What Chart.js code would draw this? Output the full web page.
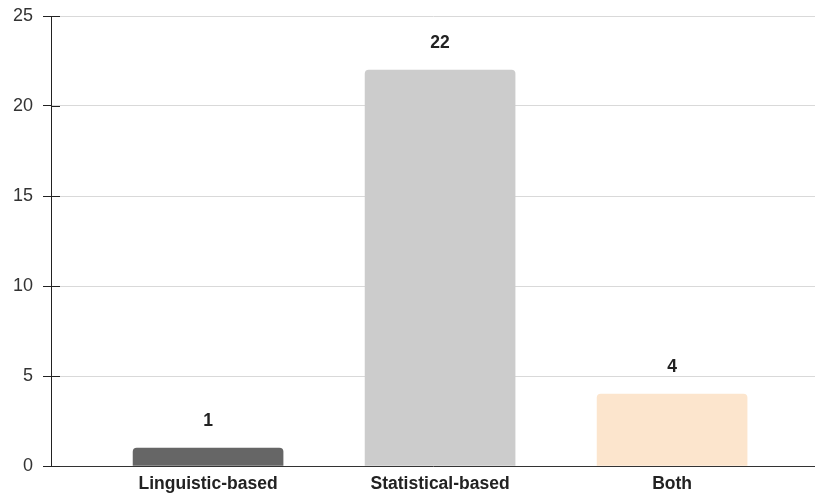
<!DOCTYPE html>
<html>
<head>
<meta charset="utf-8">
<script src="https://cdn.jsdelivr.net/npm/chart.js@4/dist/chart.umd.min.js"></script>
<style>
  html, body { margin: 0; padding: 0; background: #ffffff; }
  #wrap { width: 815px; height: 496px; position: relative; }
</style>
</head>
<body>
<div id="wrap"><canvas id="chart"></canvas></div>
<script>
// Number of approaches per category
const categories = ['Linguistic-based', 'Statistical-based', 'Both'];
const counts = [1, 22, 4];
const barColors = ['#666666', '#cccccc', '#fce5cd'];
const yTicks = [0, 5, 10, 15, 20, 25];

const FONT = 'Liberation Sans, Arial, sans-serif';

// Value labels above each bar
const valueLabels = {
  id: 'valueLabels',
  afterDatasetsDraw(chart) {
    const ctx = chart.ctx;
    const meta = chart.getDatasetMeta(0);
    ctx.save();
    ctx.font = 'bold 17.5px ' + FONT;
    ctx.fillStyle = '#222222';
    ctx.textAlign = 'center';
    ctx.textBaseline = 'middle';
    meta.data.forEach((bar, i) => {
      ctx.fillText(String(counts[i]), bar.x, bar.y - 27);
    });
    ctx.restore();
  }
};

// Short dark tick marks that cross the y axis into the plot
const crossTicks = {
  id: 'crossTicks',
  afterDraw(chart) {
    const ctx = chart.ctx;
    const y = chart.scales.y;
    const x0 = chart.chartArea.left;
    ctx.save();
    ctx.strokeStyle = '#222222';
    ctx.lineWidth = 1;
    yTicks.forEach(v => {
      const py = Math.round(y.getPixelForValue(v)) + 0.5;
      ctx.beginPath();
      ctx.moveTo(x0, py);
      ctx.lineTo(x0 + 9, py);
      ctx.stroke();
    });
    ctx.restore();
  }
};

new Chart(document.getElementById('chart'), {
  type: 'bar',
  data: {
    datasets: [{
      data: counts.map((v, i) => ({ x: i, y: v })),
      backgroundColor: barColors,
      borderRadius: { topLeft: 4, topRight: 4, bottomLeft: 0, bottomRight: 0 },
      borderSkipped: 'bottom',
      barThickness: 150
    }]
  },
  options: {
    responsive: true,
    maintainAspectRatio: false,
    animation: false,
    layout: { padding: { top: 16, right: 0, bottom: 0, left: 0 } },
    plugins: {
      legend: { display: false },
      tooltip: { enabled: false }
    },
    scales: {
      x: {
        type: 'linear',
        offset: false,
        min: -0.677,
        max: 2.616,
        grid: { display: false, drawTicks: false, offset: false },
        border: { display: true, color: '#333333', width: 1 },
        afterBuildTicks(scale) {
          scale.ticks = categories.map((c, i) => ({ value: i }));
        },
        afterFit(scale) {
          scale.height = 30;
          scale.paddingLeft = 0;
          scale.paddingRight = 0;
        },
        ticks: {
          padding: 8,
          maxRotation: 0,
          autoSkip: false,
          color: '#222222',
          font: { family: FONT, size: 17.5, weight: 'bold' },
          callback: (v) => categories[v]
        }
      },
      y: {
        min: 0,
        max: 25,
        afterBuildTicks(scale) {
          scale.ticks = yTicks.map(v => ({ value: v }));
        },
        afterFit(scale) {
          scale.width = 51;
          scale.paddingTop = 0;
          scale.paddingBottom = 0;
        },
        grid: {
          color: '#d9d9d9',
          lineWidth: 1,
          tickColor: '#222222',
          tickLength: 8
        },
        border: { display: true, color: '#222222', width: 1 },
        ticks: {
          padding: 10,
          color: '#333333',
          font: { family: FONT, size: 18 }
        }
      }
    }
  },
  plugins: [valueLabels, crossTicks]
});
</script>
</body>
</html>
